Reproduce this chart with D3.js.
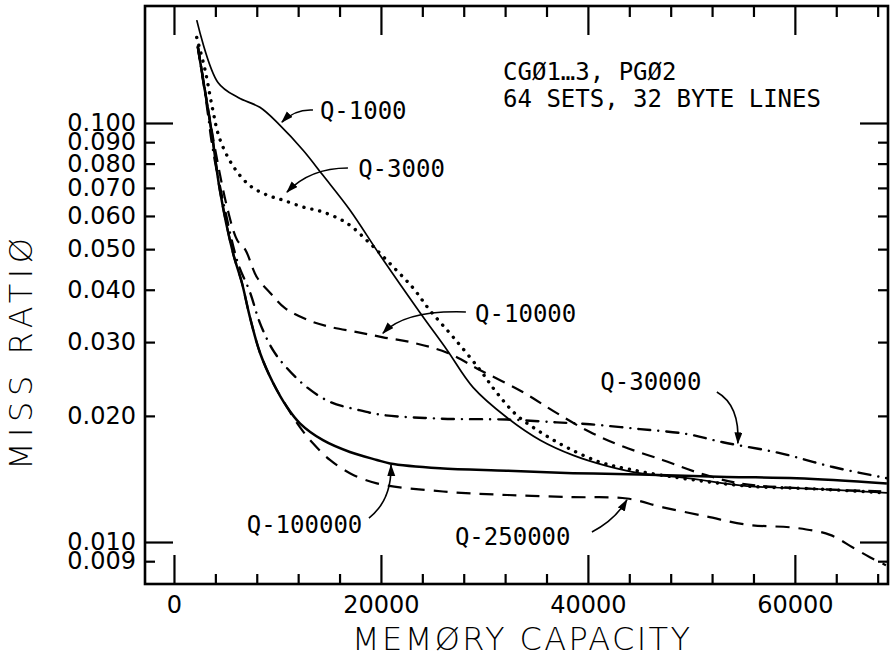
<!DOCTYPE html>
<html>
<head>
<meta charset="utf-8">
<script src="https://cdn.jsdelivr.net/npm/d3@7"></script>
<style>
  html, body { margin: 0; padding: 0; background: #fff; }
  svg { display: block; }
  text { fill: #000; }
</style>
</head>
<body>
<svg id="chart" width="892" height="657"></svg>
<script>
// ---------------- DATA ----------------
const xTickValues = d3.range(0, 68001, 4000);
const xTickLabels = [0, 20000, 40000, 60000];
const yTickValues = [0.009, 0.010, 0.020, 0.030, 0.040, 0.050, 0.060, 0.070, 0.080, 0.090, 0.100];
const yMajorTicks = [0.010, 0.100];

const capQ1000  = [2200, 4250, 6200, 8300, 10200, 12500, 14400, 17000, 19900, 23800, 26400, 28900, 32200, 35400, 38600, 41800, 45000, 49600, 55400, 61700, 68900];
const missQ1000 = [0.176, 0.125, 0.115, 0.109, 0.099, 0.086, 0.075, 0.062, 0.0484, 0.0352, 0.0287, 0.0234, 0.0198, 0.0175, 0.0161, 0.0152, 0.0146, 0.0142, 0.0136, 0.0134, 0.0131];

const capQ3000  = [2200, 3000, 3700, 4400, 5700, 7300, 9000, 10500, 12500, 14400, 16700, 18900, 21200, 23100, 24700, 27000, 29600, 31200, 33100, 35400, 38000, 41200, 44100, 48200, 55400, 61700, 68900];
const missQ3000 = [0.160, 0.134, 0.109, 0.092, 0.079, 0.071, 0.0673, 0.0655, 0.063, 0.0613, 0.0577, 0.0517, 0.0453, 0.0404, 0.0358, 0.0308, 0.0257, 0.0227, 0.0201, 0.0183, 0.0168, 0.0155, 0.0149, 0.0143, 0.0136, 0.0134, 0.0131];

const capQ10000  = [2300, 4000, 5200, 6100, 6900, 8000, 9300, 10700, 12900, 15100, 17700, 20200, 23100, 26400, 29600, 33700, 37000, 40200, 43400, 47200, 50800, 54700, 61700, 68900];
const missQ10000 = [0.153, 0.086, 0.062, 0.0526, 0.0498, 0.0429, 0.0393, 0.0362, 0.0339, 0.0326, 0.0317, 0.0308, 0.0299, 0.0283, 0.0257, 0.0228, 0.0203, 0.0183, 0.0169, 0.0157, 0.0146, 0.0138, 0.0134, 0.0132];

const capQ30000  = [2300, 3100, 3770, 4930, 6180, 7340, 8310, 9570, 10920, 12850, 15070, 17680, 20190, 25700, 32170, 37000, 40190, 45020, 49570, 53040, 58550, 63670, 68900];
const missQ30000 = [0.152, 0.1135, 0.0862, 0.062, 0.0463, 0.0395, 0.0333, 0.0287, 0.026, 0.0234, 0.0216, 0.0207, 0.0201, 0.0197, 0.0196, 0.0193, 0.0191, 0.0186, 0.0181, 0.0173, 0.0163, 0.0151, 0.0142];

const capQ100000  = [2300, 3000, 3670, 4440, 5700, 6570, 7340, 8310, 9570, 10920, 12170, 14400, 17000, 19600, 20870, 25700, 32170, 38550, 45020, 53430, 60190, 68890];
const missQ100000 = [0.152, 0.119, 0.094, 0.069, 0.049, 0.0415, 0.0344, 0.0283, 0.024, 0.021, 0.0192, 0.0175, 0.0164, 0.0157, 0.0154, 0.0150, 0.0148, 0.0146, 0.0145, 0.0143, 0.0142, 0.0138];

const capQ250000  = [2300, 3000, 3670, 4440, 5700, 6570, 7340, 8310, 9570, 10920, 12170, 13430, 15070, 17000, 19600, 26000, 32200, 38550, 43770, 47250, 51500, 55360, 60200, 63400, 65600, 67250, 68800];
const missQ250000 = [0.152, 0.119, 0.094, 0.069, 0.049, 0.0415, 0.0344, 0.0283, 0.024, 0.021, 0.0188, 0.0172, 0.0157, 0.0146, 0.0138, 0.0132, 0.01295, 0.0128, 0.0127, 0.0121, 0.0115, 0.0110, 0.0108, 0.0104, 0.0097, 0.0092, 0.0088];

const seriesNames = ["Q-1000", "Q-3000", "Q-10000", "Q-30000", "Q-100000", "Q-250000"];

// label anchors (capacity, miss ratio) and arrows [start, control, end]
const labelCap   = [14100, 17800, 29100, 41200, 18200, 27150];
const labelMiss  = [0.1022, 0.0743, 0.0335, 0.0231, 0.0105, 0.00984];
const labelAnchor = ["start", "start", "start", "start", "end", "start"];
const arrowStartCap  = [13430, 16810, 28210, 52460, 18840, 40390];
const arrowStartMiss = [0.1074, 0.0781, 0.0354, 0.0228, 0.01141, 0.01057];
const arrowCtrlCap   = [11690, 13140, 22320, 54690, 21060, 42610];
const arrowCtrlMiss  = [0.1080, 0.0781, 0.0358, 0.0212, 0.0126, 0.01128];
const arrowEndCap    = [10430, 10920, 20190, 54490, 20970, 43770];
const arrowEndMiss   = [0.1005, 0.0684, 0.0315, 0.0172, 0.01527, 0.0126];

const noteLines = ["CGØ1…3, PGØ2", "64 SETS, 32 BYTE LINES"];
const noteCap = 31800;
const noteMiss = [0.1266, 0.1092];

// ---------------- LAYOUT ----------------
const plot = { left: 145, right: 888, top: 6, bottom: 584 };
const svg = d3.select("#chart");

const x = d3.scaleLinear().domain([-2800, 69000]).range([plot.left, plot.right]);
const y = d3.scaleLog().domain([0.00794, 0.1902]).range([plot.bottom, plot.top]);

const styles = [
  { width: 1.7, dash: null, cap: "butt" },
  { width: 3.4, dash: "0.1 8", cap: "round" },
  { width: 2.2, dash: "13 8", cap: "butt" },
  { width: 2.4, dash: "12 8 0.1 8", cap: "round" },
  { width: 2.5, dash: null, cap: "butt" },
  { width: 2.2, dash: "14 9", cap: "butt" }
];
const caps = [capQ1000, capQ3000, capQ10000, capQ30000, capQ100000, capQ250000];
const misses = [missQ1000, missQ3000, missQ10000, missQ30000, missQ100000, missQ250000];
const series = seriesNames.map((name, i) => ({
  name, values: caps[i].map((c, j) => ({ c, m: misses[i][j] })), style: styles[i]
}));

const fontSans = "'DejaVu Sans', sans-serif";
const fontMono = "'DejaVu Sans Mono', monospace";

// arrow marker
svg.append("defs").append("marker")
  .attr("id", "arrow").attr("markerUnits", "userSpaceOnUse")
  .attr("markerWidth", 14).attr("markerHeight", 10)
  .attr("refX", 11).attr("refY", 4).attr("orient", "auto")
  .append("path").attr("d", "M0,0 L12,4 L0,8 Z").attr("fill", "#000");

// ---------------- AXES ----------------
const fmtY = d3.format(".3f");

const gLeft = svg.append("g").attr("transform", `translate(${plot.left},0)`)
  .call(d3.axisLeft(y).tickValues(yTickValues).tickFormat(fmtY).tickSizeInner(0).tickSizeOuter(0).tickPadding(9));
gLeft.selectAll(".tick line").attr("x2", d => yMajorTicks.includes(d) ? 28 : 10);

const gRight = svg.append("g").attr("transform", `translate(${plot.right},0)`)
  .call(d3.axisRight(y).tickValues(yTickValues).tickFormat("").tickSizeInner(0).tickSizeOuter(0));
gRight.selectAll(".tick line").attr("x2", d => yMajorTicks.includes(d) ? -28 : -10);

const gBottom = svg.append("g").attr("transform", `translate(0,${plot.bottom})`)
  .call(d3.axisBottom(x).tickValues(xTickValues)
    .tickFormat(d => xTickLabels.includes(d) ? String(d) : "").tickSizeInner(0).tickSizeOuter(0));
gBottom.selectAll(".tick line").attr("y2", d => xTickLabels.includes(d) ? -29 : -10);
gBottom.selectAll(".tick text").attr("y", 29).attr("dy", 0);

const gTop = svg.append("g").attr("transform", `translate(0,${plot.top})`)
  .call(d3.axisTop(x).tickValues(xTickValues).tickFormat("").tickSizeInner(0).tickSizeOuter(0));
gTop.selectAll(".tick line").attr("y2", d => xTickLabels.includes(d) ? 29 : 11);

svg.selectAll(".domain").remove();
svg.selectAll(".tick line").attr("stroke", "#000").attr("stroke-width", 2.2);
svg.selectAll(".tick text").attr("font-family", fontSans).attr("font-size", 24).attr("fill", "#000");

// frame
svg.append("rect")
  .attr("x", plot.left).attr("y", plot.top)
  .attr("width", plot.right - plot.left).attr("height", plot.bottom - plot.top)
  .attr("fill", "none").attr("stroke", "#000").attr("stroke-width", 2.6);

// ---------------- LINES ----------------
const line = d3.line().x(d => x(d.c)).y(d => y(d.m)).curve(d3.curveCatmullRom.alpha(0.5));
svg.append("g").selectAll("path").data(series).join("path")
  .attr("d", d => line(d.values))
  .attr("fill", "none").attr("stroke", "#000")
  .attr("stroke-width", d => d.style.width)
  .attr("stroke-dasharray", d => d.style.dash)
  .attr("stroke-linecap", d => d.style.cap)
  .attr("stroke-linejoin", "round");

// ---------------- ANNOTATIONS ----------------
const gAnn = svg.append("g");
seriesNames.forEach((name, i) => {
  gAnn.append("text")
    .attr("x", x(labelCap[i])).attr("y", y(labelMiss[i]))
    .attr("text-anchor", labelAnchor[i])
    .attr("font-family", fontMono).attr("font-size", 24)
    .text(name);
  const p = d3.path();
  p.moveTo(x(arrowStartCap[i]), y(arrowStartMiss[i]));
  p.quadraticCurveTo(x(arrowCtrlCap[i]), y(arrowCtrlMiss[i]), x(arrowEndCap[i]), y(arrowEndMiss[i]));
  gAnn.append("path").attr("d", p.toString())
    .attr("fill", "none").attr("stroke", "#000").attr("stroke-width", 1.6)
    .attr("marker-end", "url(#arrow)");
});

noteLines.forEach((t, i) => {
  gAnn.append("text")
    .attr("x", x(noteCap)).attr("y", y(noteMiss[i]))
    .attr("font-family", fontMono).attr("font-size", 24)
    .text(t);
});

// axis titles
svg.append("text")
  .attr("x", 521).attr("y", 650).attr("text-anchor", "middle")
  .attr("font-family", fontSans).attr("font-size", 32).attr("font-weight", 300)
  .attr("textLength", 338).attr("lengthAdjust", "spacing")
  .text("MEMØRY CAPACITY");

svg.append("text")
  .attr("transform", "translate(32,354) rotate(-90)")
  .attr("text-anchor", "middle")
  .attr("font-family", fontSans).attr("font-size", 32).attr("font-weight", 300)
  .attr("textLength", 232).attr("lengthAdjust", "spacing")
  .text("MISS RATIØ");
</script>
</body>
</html>
